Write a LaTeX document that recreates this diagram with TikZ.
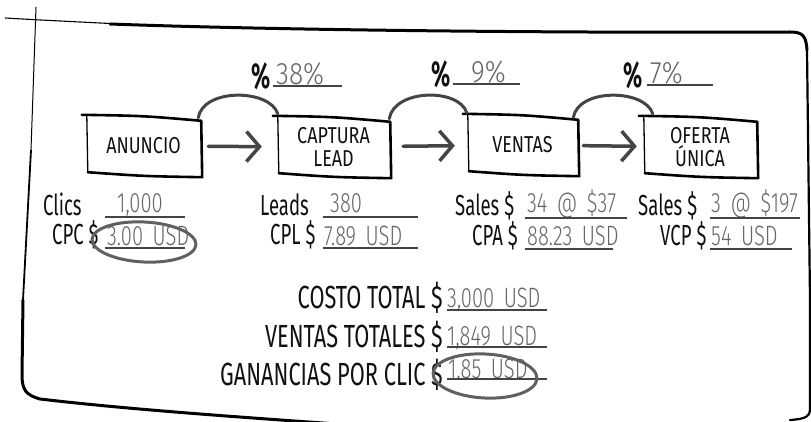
\documentclass[tikz,border=0pt]{standalone}
\usepackage{fontspec}
\usetikzlibrary{arrows.meta,calc}
\newfontfamily\handfont{Fira Sans}[FakeStretch=0.64]
\newfontfamily\stepfont{Fira Sans}[FakeStretch=0.78]
\newfontfamily\totalfont{Fira Sans}[FakeStretch=0.68]
\newfontfamily\handlight{Fira Sans Light}[FakeStretch=0.72, WordSpace=1.7]
\newfontfamily\ratelight{Fira Sans Light}[FakeStretch=0.85]
\newfontfamily\pctfont{Fira Sans Bold}[FakeStretch=0.62]
\definecolor{ink}{HTML}{111111}
\definecolor{pencil}{HTML}{666666}
\definecolor{stroke}{HTML}{444444}

% hand-drawn outline around a step node
\newcommand\sketchbox[1]{%
  \draw[boxline] ($(#1.north west)+(-4,-2)$) .. controls ($(#1.north)+(0,-1)$) ..
    ($(#1.north east)+(0,4)$) -- ($(#1.south east)+(1,2)$)
    .. controls ($(#1.south)+(0,1)$) .. ($(#1.south west)+(2,-3)$);
  \draw[line width=1.3pt] ($(#1.north west)+(1,-1)$) -- ($(#1.south west)+(2,-3)$);
}

\begin{document}
\begin{tikzpicture}[x=1pt,y=-1pt,
  boxtext/.style={font=\stepfont\fontsize{23}{23}\selectfont, align=center,
    inner sep=0pt, minimum height=58pt, text=ink},
  lbl/.style={font=\handfont\fontsize{29}{29}\selectfont, text=ink, inner sep=0pt, anchor=base west},
  val/.style={font=\handlight\fontsize{28}{28}\selectfont, text=pencil, inner sep=0pt, anchor=base west},
  rate/.style={font=\ratelight\fontsize{31}{31}\selectfont, text=pencil, inner sep=0pt, anchor=base west},
  total/.style={font=\totalfont\fontsize{32}{32}\selectfont, text=ink, inner sep=0pt, anchor=base east},
  pct/.style={font=\pctfont\fontsize{36}{36}\selectfont, text=ink, inner sep=0pt, anchor=base west},
  uline/.style={draw=stroke, line width=2.6pt},
  hump/.style={draw=stroke, line width=3pt, line cap=round},
  flow/.style={draw=stroke, line width=3.5pt, line cap=round,
    -{Straight Barb[length=13pt, width=30pt, line width=3.5pt]}},
  ring/.style={draw=stroke!85, line width=3pt},
  boxline/.style={line width=2.6pt, line cap=round, line join=round},
]
\useasboundingbox (0,0) rectangle (811,422);

% outer frame
\draw[line width=1.1pt] (5,18) .. controls (40,20) .. (120,24);
\draw[line width=3pt, line cap=round] (110,24) .. controls (300,31) and (600,33) .. (790,32)
  .. controls (803,32) and (806,36) .. (807,50);
\draw[line width=2.2pt, line cap=round] (807,50) -- (810,300) -- (810,410)
  .. controls (810,416) and (806,419) .. (790,420);
\draw[line width=1pt] (36,7) -- (31,150);
\draw[line width=1.8pt] (31,150) -- (23,300);
\draw[line width=3pt, line cap=round] (23,300) -- (22,375) .. controls (22,390) and (26,395) .. (40,399)
  .. controls (150,412) and (300,421) .. (420,430);

% funnel steps
\node[boxtext, minimum width=115pt] (anuncio) at (143.5,146) {ANUNCIO};
\node[boxtext, minimum width=113pt] (captura) at (333.5,147) {CAPTURA\\LEAD};
\node[boxtext, minimum width=111pt] (ventas) at (522.5,145) {VENTAS};
\node[boxtext, minimum width=114pt] (oferta) at (700,147) {OFERTA\\ÚNICA};
\sketchbox{anuncio}
\sketchbox{captura}
\sketchbox{ventas}
\sketchbox{oferta}

% arrows between steps
\draw[flow, shorten <=7pt, shorten >=15pt] (anuncio) -- (captura);
\draw[flow, shorten <=13pt, shorten >=12pt] (captura) -- (ventas);
\draw[flow, shorten <=5pt, shorten >=6pt] (ventas) -- (oferta);

% conversion humps
\draw[hump] ($(anuncio.north east)+(-3,1)$) .. controls +(5,-30) and +(-8,-25) .. ($(captura.north west)+(1,-4)$);
\draw[hump] ($(captura.north east)+(-1,1)$) .. controls +(5,-30) and +(-8,-25) .. ($(ventas.north west)+(0,-3)$);
\draw[hump] ($(ventas.north east)+(-5,2)$) .. controls +(5,-30) and +(-8,-25) .. ($(oferta.north west)+(10,-4)$);

% conversion rates
\node[pct] (pa) at (251,89) {\%};
\node[rate] (pav) at (276,85) {38\%};
\draw[uline] (273,86) -- (342,86);
\node[pct] (pb) at (431,87) {\%};
\node[rate] (pbv) at (471,83) {9\%};
\draw[uline] (453,84) -- (520,84);
\node[pct] (pc) at (623,88) {\%};
\node[rate] (pcv) at (650,84) {7\%};
\draw[uline] (647,85) -- (713,85);

% metrics under each step
\node[lbl] (clics) at (43,215) {Clics};
\node[val] (clicsv) at (117,213) {1,000};
\draw[uline] (105,217) -- (185,217);
\node[lbl] (cpc) at (52,244) {CPC \$};
\node[val] (cpcv) at (107,245) {3.00 USD};
\draw[uline] (105,248) -- (185,248);
\draw[ring, rotate around={-3:(144,242)}] (144,242) ellipse [x radius=52, y radius=20];

\node[lbl] (leads) at (260,215) {Leads};
\node[val] (leadsv) at (330,213) {380};
\draw[uline] (323,217) -- (418,217);
\node[lbl] (cpl) at (270,244) {CPL \$};
\node[val] (cplv) at (324,245) {7.89 USD};
\draw[uline] (323,248) -- (418,248);

\node[lbl] (salesa) at (455,215) {Sales \$};
\node[val] (salesav) at (527,213) {34 @ \$37};
\draw[uline] (525,218) -- (627,218);
\node[lbl] (cpa) at (472,245) {CPA \$};
\node[val] (cpav) at (527,245) {88.23 USD};
\draw[uline] (525,249) -- (613,249);

\node[lbl] (salesb) at (638,215) {Sales \$};
\node[val] (salesbv) at (711,213) {3 @ \$197};
\draw[uline] (710,218) -- (800,218);
\node[lbl] (vcp) at (660,245) {VCP \$};
\node[val] (vcpv) at (711,245) {54 USD};
\draw[uline] (710,249) -- (792,249);

% totals
\node[total] (costo) at (443,308) {COSTO TOTAL \$};
\node[val] (costov) at (447,307) {3,000 USD};
\draw[uline] (447,310) -- (547,310);
\node[total] (vtot) at (443,347) {VENTAS TOTALES \$};
\node[val] (vtotv) at (447,345) {1,849 USD};
\draw[uline] (447,347) -- (547,347);
\node[total] (gan) at (443,385) {GANANCIAS POR CLIC \$};
\node[val] (ganv) at (448,378) {1.85 USD};
\draw[uline] (447,379) -- (547,379);
\draw[ring, rotate around={-3:(485,376)}] (485,376) ellipse [x radius=52, y radius=22];
\end{tikzpicture}
\end{document}
